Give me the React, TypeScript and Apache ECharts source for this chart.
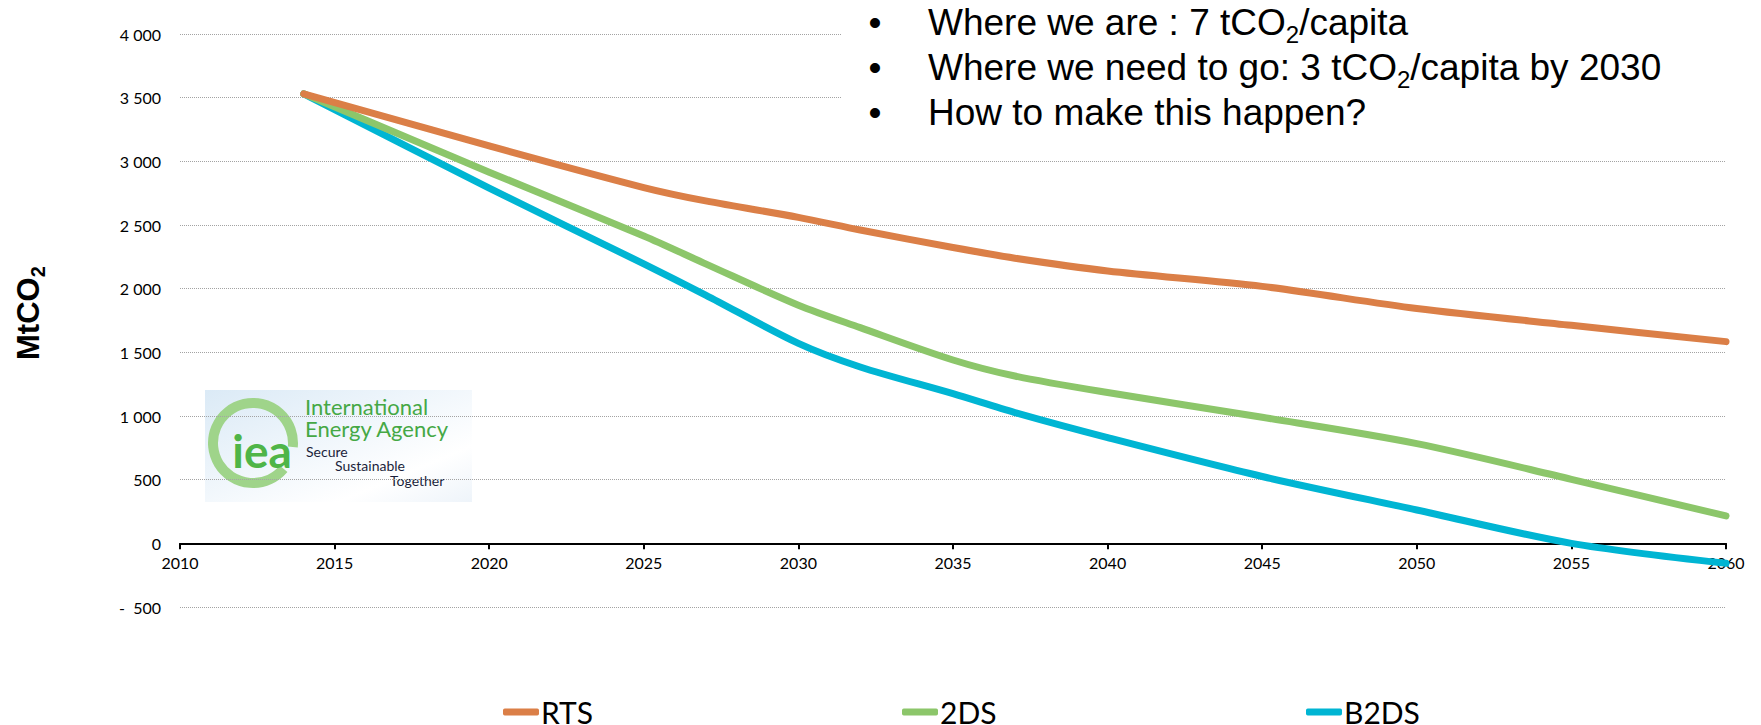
import React, { useEffect, useRef } from "react";
import * as echarts from "echarts";

// ---- data ----
const years = [2014, 2020, 2025, 2027, 2030, 2032, 2035, 2037, 2040, 2045, 2050, 2055, 2060];
const rts = [3530, 3121, 2794, 2689, 2560, 2461, 2323, 2239, 2139, 2018, 1844, 1712, 1584];
const twoDS = [3530, 2915, 2414, 2195, 1870, 1694, 1440, 1314, 1184, 990, 783, 503, 215];
const b2ds = [3530, 2790, 2195, 1950, 1570, 1385, 1175, 1027, 830, 525, 262, 0, -157];
const seriesNames = ["RTS", "2DS", "B2DS"];
const seriesColors = ["#db7f47", "#8cc66a", "#00b5d3"];
const seriesValues = [rts, twoDS, b2ds];
const legendLefts = [503, 902, 1306];

const bulletLines = [
  [{ t: "Where we are : 7 tCO" }, { t: "2", sub: true }, { t: "/capita" }],
  [{ t: "Where we need to go: 3 tCO" }, { t: "2", sub: true }, { t: "/capita by 2030" }],
  [{ t: "How to make this happen?" }],
];

const LABEL_FONT = "Lato, 'Open Sans', sans-serif";
const ARIAL = "'Liberation Sans', Arial, sans-serif";

function measure(text: string, font: string): number {
  const c = document.createElement("canvas").getContext("2d");
  if (!c) return text.length * 10;
  c.font = font;
  return c.measureText(text).width;
}

function fmtY(v: number): string {
  if (v === 0) return "0";
  const a = Math.abs(v);
  const s = a >= 1000 ? Math.floor(a / 1000) + " " + String(a % 1000).padStart(3, "0") : String(a);
  return v < 0 ? "-  " + s : s;
}

export default function App() {
  const ref = useRef<HTMLDivElement>(null);
  useEffect(() => {
    if (!ref.current) return;
    const chart = echarts.init(ref.current, undefined, { renderer: "svg" });

    const gridTop = 34;
    const gridBottom = 118;
    const plotH = 725 - gridTop - gridBottom;
    const zeroOffset = -(plotH * 500) / 4500; // move x axis up to value 0

    // bullet text graphics
    const mainSize = 37;
    const subSize = 24;
    const lineYs = [22, 67, 112];
    const textX = 928;
    const bulletGraphics: any[] = [];
    bulletLines.forEach((parts, i) => {
      const cy = lineYs[i];
      bulletGraphics.push({
        type: "text",
        z: 110,
        style: { text: "•", x: 875, y: cy, textAlign: "center", textVerticalAlign: "middle", fontSize: mainSize, fontFamily: ARIAL, fill: "#000" },
      });
      let x = textX;
      parts.forEach((p: any) => {
        const size = p.sub ? subSize : mainSize;
        const y = p.sub ? cy + 12 : cy;
        bulletGraphics.push({
          type: "text",
          z: 110,
          style: { text: p.t, x, y, textAlign: "left", textVerticalAlign: "middle", fontSize: size, fontFamily: ARIAL, fill: "#000" },
        });
        x += measure(p.t, `${size}px 'Liberation Sans'`);
      });
    });

    const mtcoWidth = measure("MtCO", "bold 31px 'Liberation Sans'");

    const option: any = {
      animation: false,
      backgroundColor: "#ffffff",
      grid: { left: 180, right: 35, top: gridTop, bottom: gridBottom, containLabel: false },
      xAxis: {
        type: "value",
        min: 2010,
        max: 2060,
        interval: 5,
        position: "bottom",
        offset: zeroOffset,
        axisLine: { onZero: false, lineStyle: { color: "#000", width: 2 } },
        axisTick: { show: true, length: 6, lineStyle: { color: "#000", width: 2 } },
        axisLabel: { fontSize: 16, color: "#000", fontFamily: LABEL_FONT, margin: 11, formatter: (v: number) => String(v) },
        splitLine: { show: false },
      },
      yAxis: {
        type: "value",
        min: -500,
        max: 4000,
        interval: 500,
        axisLine: { show: false, onZero: false },
        axisTick: { show: false },
        axisLabel: { fontSize: 16, color: "#000", fontFamily: LABEL_FONT, margin: 19, formatter: fmtY },
        splitLine: { lineStyle: { type: "dotted", color: "#a3a3a3", width: 1 } },
      },
      legend: seriesNames.map((n, i) => ({
        data: [n],
        left: legendLefts[i],
        top: 697,
        padding: 0,
        icon: "roundRect",
        itemWidth: 36,
        itemHeight: 7,
        selectedMode: false,
        textStyle: { fontSize: 30, color: "#000", fontFamily: LABEL_FONT, padding: [0, 0, 0, -3] },
      })),
      series: seriesNames.map((n, i) => ({
        name: n,
        type: "line",
        smooth: 0.3,
        showSymbol: false,
        symbol: "none",
        color: seriesColors[i],
        lineStyle: { width: 7, color: seriesColors[i], cap: "round", join: "round" },
        data: years.map((y, k) => [y, seriesValues[i][k]]),
        z: 5 - i,
      })),
      graphic: [
        // y axis title
        {
          type: "group",
          x: 38,
          y: 360,
          rotation: Math.PI / 2,
          z: 100,
          children: [
            {
              type: "text",
              style: { text: "MtCO", x: 0, y: 6, textAlign: "left", textVerticalAlign: "bottom", fontSize: 31, fontWeight: "bold", fontFamily: ARIAL, fill: "#000" },
            },
            {
              type: "text",
              style: { text: "2", x: mtcoWidth, y: 10, textAlign: "left", textVerticalAlign: "bottom", fontSize: 20, fontWeight: "bold", fontFamily: ARIAL, fill: "#000" },
            },
          ],
        },
        // text box background
        { type: "rect", z: 100, shape: { x: 842, y: 0, width: 919, height: 145 }, style: { fill: "#ffffff" } },
        ...bulletGraphics,
        // logo
        {
          type: "group",
          z: 100,
          children: [
            {
              type: "rect",
              shape: { x: 205, y: 390, width: 267, height: 112 },
              style: {
                fill: new echarts.graphic.LinearGradient(0, 0, 1, 1, [
                  { offset: 0, color: "#dbeaf6" },
                  { offset: 0.4, color: "#eef5fb" },
                  { offset: 0.75, color: "#ffffff" },
                  { offset: 1, color: "#eef4fa" },
                ]),
              },
            },
            {
              type: "arc",
              shape: { cx: 253, cy: 443, r: 40, startAngle: 0.7, endAngle: Math.PI * 2 + 0.1, clockwise: true },
              style: { stroke: "#9fd48a", lineWidth: 10, fill: "none" },
            },
            {
              type: "text",
              style: { text: "iea", x: 262, y: 450, textAlign: "center", textVerticalAlign: "middle", fontSize: 46, fontWeight: "bold", fontFamily: LABEL_FONT, fill: "#4fb548" },
            },
            {
              type: "text",
              style: { text: "International", x: 305, y: 406, textAlign: "left", textVerticalAlign: "middle", fontSize: 22, fontFamily: LABEL_FONT, fill: "#45a845" },
            },
            {
              type: "text",
              style: { text: "Energy Agency", x: 305, y: 428, textAlign: "left", textVerticalAlign: "middle", fontSize: 22, fontFamily: LABEL_FONT, fill: "#45a845" },
            },
            {
              type: "text",
              style: { text: "Secure", x: 306, y: 451, textAlign: "left", textVerticalAlign: "middle", fontSize: 14, fontFamily: LABEL_FONT, fill: "#1b1f3b" },
            },
            {
              type: "text",
              style: { text: "Sustainable", x: 335, y: 465, textAlign: "left", textVerticalAlign: "middle", fontSize: 14, fontFamily: LABEL_FONT, fill: "#1b1f3b" },
            },
            {
              type: "text",
              style: { text: "Together", x: 390, y: 480, textAlign: "left", textVerticalAlign: "middle", fontSize: 14, fontFamily: LABEL_FONT, fill: "#1b1f3b" },
            },
          ],
        },
      ],
    };
    chart.setOption(option);
    return () => chart.dispose();
  }, []);
  return <div ref={ref} style={{ position: "fixed", left: 0, top: 0, width: 1761, height: 725 }} />;
}
